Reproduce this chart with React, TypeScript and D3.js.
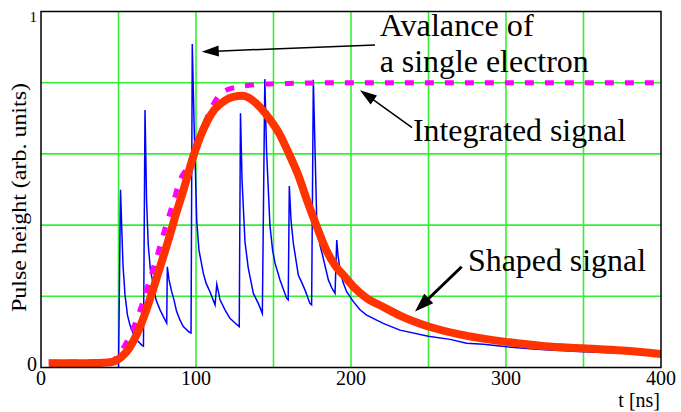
import React from 'react';
import * as d3 from 'd3';

// ---- data ----
const xTickValues = [0, 100, 200, 300, 400];
const xGridValues = [50, 100, 150, 200, 250, 300, 350];
const yGridValues = [0.2, 0.4, 0.6, 0.8];
const yTickLabels = ['0', '1'];
const yTickValues = [0, 1];

const shapedT = [5, 30, 45, 52, 57, 62, 67, 72, 77, 82, 87, 92, 97, 102, 107, 112, 118, 124, 130, 136, 142, 148, 154, 160, 166, 172, 178, 184, 190, 196, 202, 210, 220, 232, 250, 270, 300, 325, 350, 375, 400];
const shapedV = [0.012, 0.012, 0.015, 0.03, 0.055, 0.095, 0.15, 0.215, 0.285, 0.355, 0.43, 0.5, 0.575, 0.64, 0.69, 0.725, 0.748, 0.76, 0.763, 0.752, 0.728, 0.695, 0.655, 0.6, 0.54, 0.465, 0.395, 0.33, 0.285, 0.255, 0.225, 0.195, 0.172, 0.145, 0.115, 0.093, 0.072, 0.06, 0.054, 0.048, 0.038];

const integT = [5, 30, 45, 50, 55, 60, 65, 70, 75, 80, 85, 90, 95, 100, 105, 110, 115, 120, 130, 140, 160, 200, 300, 396];
const integV = [0.015, 0.016, 0.018, 0.035, 0.07, 0.115, 0.175, 0.245, 0.315, 0.39, 0.46, 0.53, 0.565, 0.625, 0.68, 0.73, 0.765, 0.78, 0.79, 0.795, 0.798, 0.8, 0.8, 0.8];

const avalT = [50.0, 51.3, 52.1, 52.9, 54.2, 55.8, 57.4, 60.6, 65.0, 66.1, 67.1, 68.1, 69.2, 70.6, 72.5, 74.2, 76.8, 78.7, 81.1, 81.5, 82.6, 84.3, 85.8, 87.5, 89.7, 91.8, 95.7, 96.8, 97.6, 98.7, 100.5, 101.9, 104.7, 106.5, 109.0, 112.3, 113.4, 114.2, 115.5, 118.7, 121.9, 125.2, 127.9, 128.7, 129.7, 131.6, 133.7, 137.0, 140.2, 142.8, 144.4, 145.5, 147.7, 149.4, 151.0, 154.2, 158.5, 159.5, 160.2, 161.3, 162.8, 166.0, 168.4, 170.3, 173.5, 174.6, 175.7, 176.8, 177.9, 180.0, 182.1, 185.4, 187.7, 189.7, 190.8, 191.6, 192.9, 194.8, 197.2, 201.5, 205.8, 210.1, 220.8, 231.6, 249.9, 263.9, 274.6, 285.4, 300.5, 317.6, 328.4, 349.9, 382.1, 399.4];
const avalV = [0, 0.499, 0.392, 0.288, 0.204, 0.147, 0.119, 0.083, 0.063, 0.06, 0.723, 0.47, 0.344, 0.274, 0.232, 0.19, 0.162, 0.145, 0.125, 0.283, 0.246, 0.213, 0.19, 0.157, 0.133, 0.115, 0.099, 0.097, 0.909, 0.695, 0.41, 0.33, 0.265, 0.237, 0.213, 0.176, 0.234, 0.218, 0.19, 0.162, 0.138, 0.125, 0.115, 0.714, 0.527, 0.353, 0.28, 0.208, 0.18, 0.152, 0.81, 0.611, 0.4, 0.33, 0.293, 0.246, 0.194, 0.19, 0.51, 0.414, 0.349, 0.26, 0.237, 0.218, 0.18, 0.176, 0.808, 0.611, 0.41, 0.344, 0.307, 0.246, 0.223, 0.208, 0.358, 0.316, 0.274, 0.24, 0.213, 0.185, 0.162, 0.147, 0.124, 0.105, 0.088, 0.079, 0.068, 0.065, 0.058, 0.052, 0.049, 0.044, 0.039, 0.037];

// annotations in data coordinates
const annotTexts = [
  { t: 218.5, v: 0.93, text: 'Avalance of', len: 154 },
  { t: 218.5, v: 0.83, text: 'a single electron', len: 209 },
  { t: 240, v: 0.635, text: 'Integrated signal', len: 213 },
  { t: 275.5, v: 0.27, text: 'Shaped signal', len: 178 },
];
const arrows = [
  { t0: 215.5, v0: 0.906, t1: 103.7, v1: 0.887, w: 1.5 },
  { t0: 239.4, v0: 0.674, t1: 205.8, v1: 0.779, w: 1.5 },
  { t0: 271.4, v0: 0.283, t1: 241.3, v1: 0.157, w: 3 },
];

const W = 681, H = 412;
const M = { left: 41, right: 20, top: 11.5, bottom: 44.5 };
const FONT = "'Liberation Serif', 'DejaVu Serif', 'Times New Roman', Times, serif";

export default function App() {
  const x = d3.scaleLinear().domain([0, 400]).range([M.left, W - M.right]);
  const y = d3.scaleLinear().domain([0, 1]).range([H - M.bottom, M.top]);

  const mkLine = (ts: number[], vs: number[], curve: d3.CurveFactory) =>
    d3.line<number>()
      .x((i) => x(ts[i]))
      .y((i) => y(vs[i]))
      .curve(curve)(d3.range(ts.length)) || '';

  const avalPath = mkLine(avalT, avalV, d3.curveLinear);
  const shapedPath = mkLine(shapedT, shapedV, d3.curveMonotoneX);
  const integPath = mkLine(integT, integV, d3.curveMonotoneX);

  const arrowEls = arrows.map((a, k) => {
    const x0 = x(a.t0), y0 = y(a.v0), x1 = x(a.t1), y1 = y(a.v1);
    const ang = Math.atan2(y1 - y0, x1 - x0);
    const L = a.w > 2 ? 19 : 17, hw = a.w > 2 ? 6.5 : 5.5;
    const bx = x1 - L * Math.cos(ang), by = y1 - L * Math.sin(ang);
    const px = -Math.sin(ang), py = Math.cos(ang);
    const pts = [
      [x1, y1],
      [bx + px * hw, by + py * hw],
      [bx - px * hw, by - py * hw],
    ].map((p) => p.join(',')).join(' ');
    return (
      <g key={k}>
        <line x1={x0} y1={y0} x2={bx + 3 * Math.cos(ang)} y2={by + 3 * Math.sin(ang)} stroke="#000" strokeWidth={a.w} />
        <polygon points={pts} fill="#000" />
      </g>
    );
  });

  return (
    <svg width={W} height={H} style={{ position: 'absolute', left: 0, top: 0, background: '#fff', fontFamily: FONT }}>
      <defs>
        <clipPath id="plotclip">
          <rect x={M.left} y={M.top} width={W - M.left - M.right} height={H - M.top - M.bottom} />
        </clipPath>
      </defs>
      <rect x={0} y={0} width={W} height={H} fill="#fff" />
      {xGridValues.map((t) => (
        <line key={'gx' + t} x1={x(t)} x2={x(t)} y1={y(0)} y2={y(1)} stroke="#33f033" strokeWidth={1.6} />
      ))}
      {yGridValues.map((v) => (
        <line key={'gy' + v} x1={x(0)} x2={x(400)} y1={y(v)} y2={y(v)} stroke="#33f033" strokeWidth={1.6} />
      ))}
      <g clipPath="url(#plotclip)">
        <path d={avalPath} fill="none" stroke="#0000ff" strokeWidth={1.5} strokeLinejoin="miter" strokeMiterlimit={10} />
        <path d={integPath} fill="none" stroke="#ff00ff" strokeWidth={5} strokeDasharray="9,11" />
        <path d={shapedPath} fill="none" stroke="#ff3300" strokeWidth={8} strokeLinejoin="round" />
      </g>
      <rect x={M.left} y={M.top} width={W - M.left - M.right} height={H - M.top - M.bottom} fill="none" stroke="#000" strokeWidth={1.5} />
      <g style={{ fontFamily: FONT }}>
        {xTickValues.map((t) => (
          <text key={'xt' + t} x={x(t)} y={385} textAnchor="middle" fontSize={20}>{t}</text>
        ))}
        {yTickValues.map((v, i) => (
          <text key={'yt' + v} x={37} y={y(v) + (v === 0 ? 3 : 10.5)} textAnchor="end" fontSize={v === 0 ? 20 : 15}>{yTickLabels[i]}</text>
        ))}
        <text x={660} y={407} textAnchor="end" fontSize={20}>t [ns]</text>
        <text transform={`translate(26,${(y(0) + y(1)) / 2 + 8}) rotate(-90)`} textAnchor="middle" fontSize={20}
          textLength={229} lengthAdjust="spacingAndGlyphs">Pulse height (arb. units)</text>
        {annotTexts.map((a, k) => (
          <text key={'an' + k} x={x(a.t)} y={y(a.v)} fontSize={31.5} textLength={a.len} lengthAdjust="spacingAndGlyphs">{a.text}</text>
        ))}
      </g>
      {arrowEls}
    </svg>
  );
}
